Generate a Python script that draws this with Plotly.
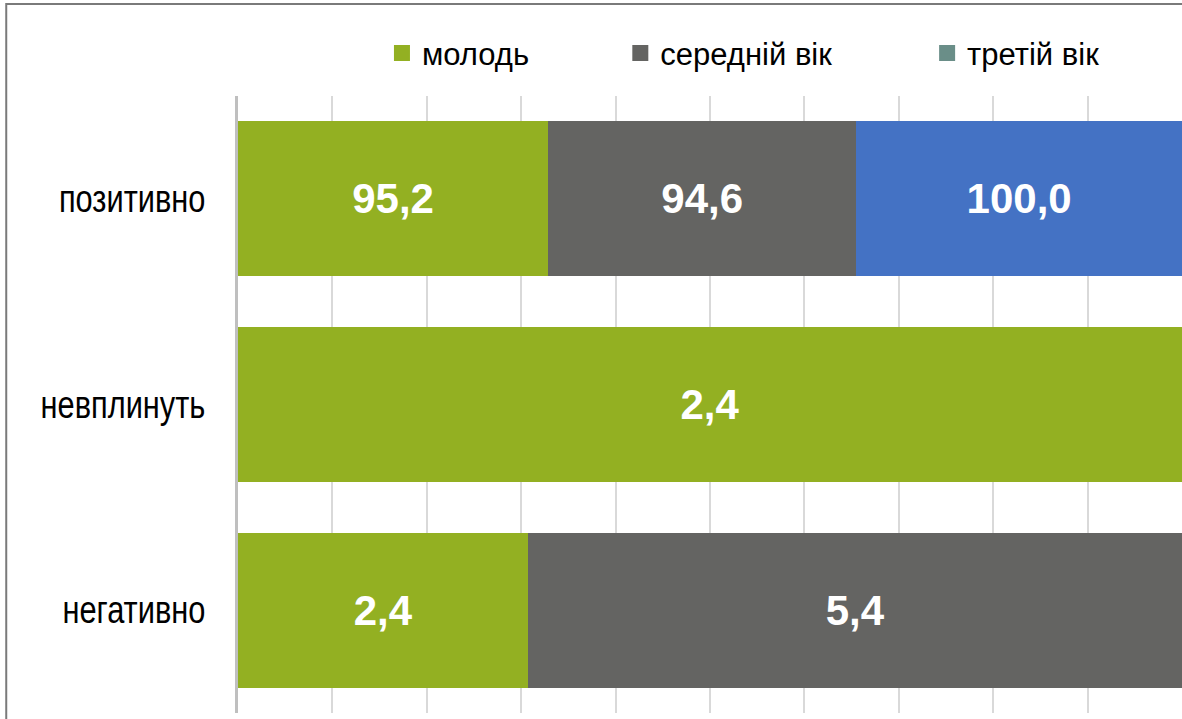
import plotly.graph_objects as go

categories = ["позитивно", "невплинуть", "негативно"]
series_names = ["молодь", "середній вік", "третій вік"]
youth = [95.2, 2.4, 2.4]
middle = [94.6, 0.0, 5.4]
elder = [100.0, 0.0, 0.0]
bar_colors = ["#93b022", "#646462", "#4472c4"]
legend_colors = ["#93b022", "#646462", "#6a8e88"]

def fmt(v):
    return "" if v == 0 else f"{v:.1f}".replace(".", ",")

fig = go.Figure()
for name, vals, col in zip(series_names, [youth, middle, elder], bar_colors):
    fig.add_trace(go.Bar(
        y=categories, x=vals, name=name, orientation="h",
        marker=dict(color=col, line=dict(width=0)),
        text=[fmt(v) for v in vals], textposition="inside",
        insidetextanchor="middle", constraintext="none",
        textfont=dict(family="Liberation Sans", size=42, color="white", weight="bold"),
        showlegend=False, hoverinfo="skip",
    ))

legend_ids = ["legend", "legend2", "legend3"]
for name, col, lid in zip(series_names, legend_colors, legend_ids):
    fig.add_trace(go.Scatter(
        x=[None], y=[None], mode="markers", name=name, legend=lid,
        marker=dict(symbol="square", size=16, color=col),
    ))

label_font = dict(family="Liberation Sans", size=38, color="#000000")
legend_font = dict(family="Liberation Sans", size=31, color="#000000")
leg_common = dict(orientation="h", yanchor="middle", y=1.069, xanchor="left",
                  bgcolor="rgba(0,0,0,0)", font=legend_font)
fig.update_layout(
    barmode="stack", barnorm="percent", bargap=0.246,
    width=1182, height=719,
    margin=dict(l=238, r=0, t=96, b=6),
    paper_bgcolor="white", plot_bgcolor="white",
    legend=dict(x=0.1525, **leg_common),
    legend2=dict(x=0.405, **leg_common),
    legend3=dict(x=0.73, **leg_common),
    xaxis=dict(range=[0, 100], dtick=10, showticklabels=False, showgrid=True,
               gridcolor="#d9d9d9", gridwidth=2, zeroline=False, fixedrange=True),
    yaxis=dict(autorange="reversed", showline=True, linecolor="#bfbfbf", linewidth=3,
               ticks="", ticklabelstandoff=22, tickfont=label_font, fixedrange=True),
    shapes=[dict(type="rect", xref="paper", yref="paper",
                 x0=(6 - 238) / 945, x1=1.2, y0=-0.2, y1=1 + (96 - 4) / 617,
                 line=dict(color="#7a7a7a", width=2), fillcolor="rgba(0,0,0,0)", layer="below")],
)

post = """
document.body.style.margin='0';
document.body.style.overflow='hidden';
function squeezeText(){
  document.querySelectorAll('.ytick text').forEach(function(t){
    t.removeAttribute('textLength');
    t.removeAttribute('lengthAdjust');
    var w = t.getComputedTextLength();
    if (!w) return;
    t.setAttribute('textLength', (w*0.81).toFixed(1));
    t.setAttribute('lengthAdjust','spacingAndGlyphs');
  });
}
var gdq = document.querySelector('.plotly-graph-div');
if (gdq && gdq.on) { gdq.on('plotly_afterplot', squeezeText); }
squeezeText();
[20, 100, 300].forEach(function(ms){ setTimeout(squeezeText, ms); });
"""
fig.write_html("out.html", post_script=post, config={"displayModeBar": False})
